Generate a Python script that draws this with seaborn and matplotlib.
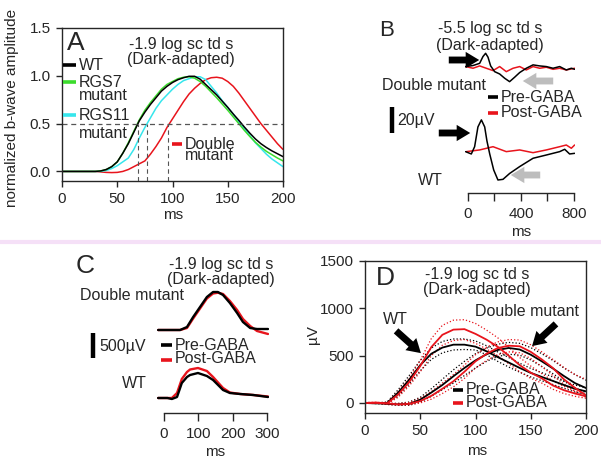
import matplotlib
matplotlib.use("Agg")
import matplotlib.pyplot as plt
import seaborn as sns
from matplotlib.lines import Line2D
from matplotlib.patches import FancyArrowPatch

# ---------------------------------------------------------------------------
# Data
# ---------------------------------------------------------------------------
# A: normalized b-wave, 5 ms grid
a_ms = list(range(0, 205, 5))
a_wt = [0, 0, 0, 0, 0, 0, 0, 0.005, 0.02, 0.05, 0.10, 0.19, 0.29, 0.41, 0.53,
        0.62, 0.70, 0.77, 0.84, 0.89, 0.93, 0.96, 0.98, 0.995, 0.995, 0.965,
        0.91, 0.855, 0.80, 0.735, 0.67, 0.60, 0.535, 0.465, 0.40, 0.34, 0.29,
        0.25, 0.215, 0.185, 0.155]
a_rgs7 = [0, 0, 0, 0, 0, 0, 0, 0.005, 0.02, 0.05, 0.10, 0.19, 0.30, 0.42, 0.54,
          0.64, 0.72, 0.79, 0.86, 0.91, 0.94, 0.97, 0.985, 0.99, 0.975, 0.94,
          0.89, 0.83, 0.77, 0.705, 0.64, 0.57, 0.50, 0.43, 0.365, 0.305, 0.255,
          0.21, 0.175, 0.14, 0.11]
a_rgs11 = [0, 0, 0, 0, 0, 0, 0, 0, 0.01, 0.03, 0.06, 0.10, 0.14, 0.23, 0.35,
           0.46, 0.56, 0.66, 0.74, 0.80, 0.86, 0.91, 0.95, 0.97, 0.99, 0.99,
           0.96, 0.89, 0.82, 0.74, 0.67, 0.60, 0.52, 0.45, 0.375, 0.30, 0.24,
           0.18, 0.13, 0.09, 0.05]
a_double = [0, 0, 0, 0, 0, 0, 0, -0.005, -0.01, -0.012, -0.01, 0.0, 0.02, 0.05,
            0.08, 0.11, 0.18, 0.26, 0.35, 0.46, 0.55, 0.64, 0.73, 0.81, 0.87,
            0.92, 0.96, 0.98, 0.985, 0.975, 0.94, 0.89, 0.82, 0.74, 0.66, 0.58,
            0.50, 0.43, 0.36, 0.29, 0.23]
a_half_ms = [69, 77, 96]

# B: -5.5 log sc td s traces (µV)
b_dm_pre_ms = [-18, 38, 88, 113, 133, 151, 171, 201, 239, 277, 314, 352, 390,
               440, 491, 541, 591, 642, 692, 742, 780, 805]
b_dm_pre = [97.2, 98, 99.7, 104.9, 107.4, 104.4, 97.7, 93.3, 91.5, 88.2, 85.6,
            89, 92.6, 95.9, 98.5, 97.7, 97.2, 95.9, 97.2, 94.6, 95.9, 95.1]
b_dm_post_ms = [-18, 38, 88, 138, 189, 239, 289, 340, 390, 440, 491, 541, 591,
                642, 692, 742, 805]
b_dm_post = [97.2, 95.9, 97.7, 95.9, 94.1, 97.2, 93.3, 95.9, 97.2, 94.6, 97.2,
             95.9, 96.7, 95.1, 95.9, 94.6, 95.9]
b_wt_pre_ms = [-18, 25, 50, 75, 101, 126, 143, 164, 194, 226, 264, 314, 390,
               491, 591, 692, 730, 767, 805]
b_wt_pre = [31.8, 30, 35.6, 50.8, 56.2, 50.8, 40, 30, 17.7, 10, 10.5, 15, 20.3,
            26.7, 29.2, 31.8, 33.6, 30, 30.5]
b_wt_post_ms = [-13, 88, 189, 289, 390, 491, 591, 692, 742, 780, 805]
b_wt_post = [31.8, 33.1, 35.6, 31.8, 33.1, 31, 33.1, 35.6, 36.9, 34.4, 36.9]

# C: -1.9 log sc td s traces (µV, offset per genotype)
c_dm_ms = [-17, 20, 47, 67, 85, 105, 125, 143, 157, 172, 192, 213, 230, 251,
           271, 303]
c_dm_pre = [0, 0, 0, 60, 260, 460, 660, 760, 760, 700, 540, 340, 160, 40, 20, 20]
c_dm_post = [0, 0, 0, 40, 230, 430, 630, 730, 745, 720, 580, 400, 220, 80, -20,
             -80]
c_wt_ms = [-17, 10, 23, 38, 52, 67, 76, 99, 125, 143, 172, 192, 222, 260, 303]
c_wt_pre = [0, 0, -20, 20, 300, 420, 460, 500, 440, 360, 160, 100, 80, 60, 20]
c_wt_post = [0, 0, 0, 100, 380, 520, 570, 600, 540, 420, 200, 110, 80, 60, 30]

# D: mean (solid) and ± bounds (dotted), 10 ms grid
d_ms = list(range(0, 210, 10))
d_wt_pre = [0, -5, 0, 110, 246, 400, 520, 585, 616, 616, 595, 546, 485, 428,
            370, 318, 275, 233, 190, 150, 123]
d_wt_pre_hi = [0, 0, 10, 140, 290, 450, 580, 650, 676, 676, 655, 605, 540, 480,
               420, 365, 320, 275, 230, 190, 160]
d_wt_pre_lo = [0, -5, -5, 70, 200, 340, 460, 530, 560, 565, 560, 510, 440, 380,
               325, 275, 235, 195, 155, 115, 90]
d_wt_post = [0, 0, -5, 90, 220, 390, 590, 720, 775, 780, 730, 669, 595, 500,
             400, 320, 260, 185, 135, 100, 70]
d_wt_post_hi = [5, 5, 5, 120, 260, 450, 680, 820, 875, 880, 840, 770, 690, 590,
                480, 390, 310, 235, 175, 130, 95]
d_wt_post_lo = [-5, -5, -10, 60, 180, 330, 500, 610, 660, 670, 630, 570, 500,
                415, 330, 260, 210, 145, 100, 70, 50]
d_dm_pre = [0, 0, -10, -15, -10, 35, 110, 190, 282, 370, 450, 515, 560, 581,
            565, 510, 440, 365, 285, 210, 158]
d_dm_pre_hi = [0, 0, -5, -5, 10, 60, 150, 250, 350, 440, 520, 580, 620, 640,
               630, 585, 520, 450, 370, 300, 240]
d_dm_pre_lo = [0, -5, -15, -25, -25, 10, 70, 140, 210, 290, 370, 440, 490, 515,
               505, 455, 385, 310, 230, 160, 110]
d_dm_post = [0, 5, -5, -15, -10, 20, 75, 150, 229, 330, 440, 520, 580, 605,
             599, 540, 460, 370, 250, 160, 80]
d_dm_post_hi = [5, 5, 0, -5, 5, 50, 120, 210, 300, 400, 510, 590, 645, 670,
                665, 615, 540, 460, 375, 300, 250]
d_dm_post_lo = [-5, 0, -15, -25, -20, 0, 40, 100, 170, 260, 370, 450, 510, 540,
                530, 470, 385, 290, 200, 120, 60]

# offsets used to stack traces in C
C_DM_BASE, C_WT_BASE = 1660, 300

BLACK, RED, GREEN, CYAN, GRAY = "black", "#e8141c", "#3bdc2c", "#36e6ec", "#bdbdbd"
FS = 11.5

# ---------------------------------------------------------------------------
sns.set_style("ticks")
plt.rcParams["font.family"] = ["Liberation Sans", "DejaVu Sans"]
plt.rcParams["font.size"] = 11
plt.rcParams["axes.linewidth"] = 1.0
plt.rcParams["xtick.major.width"] = 1.0
plt.rcParams["ytick.major.width"] = 1.0

W, H = 601, 463
fig = plt.figure(figsize=(W / 100, H / 100), dpi=100)


def fx(x):
    return x / W


def fy(y):
    return 1 - y / H


def axes_px(l, t, r, b):
    return fig.add_axes([fx(l), fy(b), (r - l) / W, (b - t) / H])


def txt(x, y, s, ha="left", size=FS, **kw):
    fig.text(fx(x), fy(y), s, ha=ha, va="center", fontsize=size, **kw)


def seg(x0, y0, x1, y1, color, lw=2.2):
    fig.add_artist(Line2D([fx(x0), fx(x1)], [fy(y0), fy(y1)], color=color,
                          lw=lw, solid_capstyle="butt"))


def arrow(x0, y0, x1, y1, color):
    fig.add_artist(FancyArrowPatch(
        (fx(x0), fy(y0)), (fx(x1), fy(y1)), transform=fig.transFigure,
        arrowstyle="simple,head_length=0.75,head_width=0.9,tail_width=0.38",
        mutation_scale=13, color=color, lw=0))


def trace(ax, x, y, color, lw=1.1, ls="-"):
    sns.lineplot(x=x, y=y, ax=ax, color=color, lw=lw, linestyle=ls,
                 legend=False)


# separator between rows
seg(0, 242, W, 242, "#f5e0f7", lw=3)

# ---------------------------------------------------------------------------
# Panel A
# ---------------------------------------------------------------------------
axA = axes_px(62, 28, 283, 181)
trace(axA, a_ms, a_double, RED)
trace(axA, a_ms, a_rgs11, CYAN)
trace(axA, a_ms, a_rgs7, GREEN)
trace(axA, a_ms, a_wt, BLACK)
axA.axhline(0.5, color="#555555", lw=0.9, ls=(0, (4, 3)))
for h in a_half_ms:
    axA.plot([h, h], [-0.1, 0.5], color="#555555", lw=0.8, ls=(0, (4, 3)))
axA.set_xlim(0, 200)
axA.set_ylim(-0.1, 1.5)
axA.set_xticks([0, 50, 100, 150, 200])
axA.set_yticks([0.0, 0.5, 1.0, 1.5])
axA.set_yticklabels(["0.0", "0.5", "1.0", "1.5"])
axA.set_xlabel("")
axA.set_ylabel("")
axA.tick_params(length=4, pad=4)

txt(67, 43, "A", size=19)
txt(181, 52, "-1.9 log sc td s\n(Dark-adapted)", ha="center", linespacing=1.05)
seg(63, 65, 76, 65, BLACK, 2.6)
txt(79, 65, "WT")
seg(63, 82, 76, 82, GREEN, 2.6)
txt(79, 89, "RGS7\nmutant", linespacing=0.82)
seg(63, 115, 76, 115, CYAN, 2.6)
txt(79, 125, "RGS11\nmutant", linespacing=1.25)
seg(172, 144, 182, 144, RED, 2.6)
txt(185, 150, "Double\nmutant", linespacing=0.7)
txt(12, 108, "normalized b-wave amplitude", ha="center", rotation=90, size=11)
txt(173, 215, "ms", ha="center", size=11)

# ---------------------------------------------------------------------------
# Panel B
# ---------------------------------------------------------------------------
axB = axes_px(465.35, 20, 575.3, 193)
trace(axB, b_dm_post_ms, b_dm_post, RED)
trace(axB, b_dm_pre_ms, b_dm_pre, BLACK)
trace(axB, b_wt_post_ms, b_wt_post, RED)
trace(axB, b_wt_pre_ms, b_wt_pre, BLACK)
axB.set_xlim(-20, 810)
axB.set_ylim(0, 133)
axB.set_xticks([0, 200, 400, 600, 800])
axB.set_xticklabels(["0", "", "400", "", "800"])
axB.set_yticks([])
axB.set_xlabel("")
axB.set_ylabel("")
for side in ["left", "top", "right"]:
    axB.spines[side].set_visible(False)
axB.spines["bottom"].set_bounds(0, 800)
axB.tick_params(length=6, pad=4)

txt(379, 30, "B", size=16)
txt(490, 37, "-5.5 log sc td s\n(Dark-adapted)", ha="center", linespacing=1.15)
txt(486, 85, "Double mutant", ha="right")
seg(488, 97, 498, 97, BLACK, 2.6)
txt(501, 105, "Pre-GABA\nPost-GABA", linespacing=0.95)
seg(488, 113, 498, 113, RED, 2.6)
seg(392, 107, 392, 133, BLACK, 3.2)
txt(397, 120, "20µV")
txt(430, 180, "WT", ha="center")
txt(521, 232, "ms", ha="center", size=11)
arrow(446, 60, 482, 60, BLACK)
arrow(436, 133, 473, 133, BLACK)
arrow(556, 81, 520, 81, GRAY)
arrow(543, 175, 508, 175, GRAY)

# ---------------------------------------------------------------------------
# Panel C
# ---------------------------------------------------------------------------
axC = axes_px(157.1, 255, 268.7, 413)
trace(axC, c_dm_ms, [v + C_DM_BASE for v in c_dm_post], RED, lw=1.7)
trace(axC, c_dm_ms, [v + C_DM_BASE for v in c_dm_pre], BLACK, lw=1.7)
trace(axC, c_wt_ms, [v + C_WT_BASE for v in c_wt_post], RED, lw=1.7)
trace(axC, c_wt_ms, [v + C_WT_BASE for v in c_wt_pre], BLACK, lw=1.7)
axC.set_xlim(-20, 305)
axC.set_ylim(0, 3160)
axC.set_xticks([0, 100, 200, 300])
axC.set_yticks([])
axC.set_xlabel("")
axC.set_ylabel("")
for side in ["left", "top", "right"]:
    axC.spines[side].set_visible(False)
axC.spines["bottom"].set_bounds(0, 300)
axC.tick_params(length=6, pad=4)

txt(76, 266, "C", size=19)
txt(221, 272, "-1.9 log sc td s\n(Dark-adapted)", ha="center", linespacing=0.95)
txt(80, 295, "Double mutant")
seg(93, 333, 93, 358, BLACK, 3.2)
txt(99, 346, "500µV")
seg(161, 345, 172, 345, BLACK, 2.6)
txt(175, 352, "Pre-GABA\nPost-GABA", linespacing=0.85)
seg(161, 360, 172, 360, RED, 2.6)
txt(134, 383, "WT", ha="center")
txt(215, 452, "ms", ha="center", size=11)

# ---------------------------------------------------------------------------
# Panel D
# ---------------------------------------------------------------------------
axD = axes_px(365, 261, 586, 413)
for lo, hi, color in [(d_wt_pre_lo, d_wt_pre_hi, BLACK),
                      (d_dm_pre_lo, d_dm_pre_hi, BLACK),
                      (d_wt_post_lo, d_wt_post_hi, RED),
                      (d_dm_post_lo, d_dm_post_hi, RED)]:
    trace(axD, d_ms, lo, color, lw=0.9, ls=":")
    trace(axD, d_ms, hi, color, lw=0.9, ls=":")
trace(axD, d_ms, d_wt_pre, BLACK, lw=1.3)
trace(axD, d_ms, d_dm_pre, BLACK, lw=1.3)
trace(axD, d_ms, d_wt_post, RED, lw=1.3)
trace(axD, d_ms, d_dm_post, RED, lw=1.3)
axD.set_xlim(0, 200)
axD.set_ylim(-106, 1500)
axD.set_xticks([0, 50, 100, 150, 200])
axD.set_yticks([0, 500, 1000, 1500])
axD.set_xlabel("")
axD.set_ylabel("")
axD.tick_params(length=4, pad=4)

txt(376, 278, "D", size=19)
txt(477, 282, "-1.9 log sc td s\n(Dark-adapted)", ha="center", linespacing=1.0)
txt(527, 311, "Double mutant", ha="center")
txt(395, 320, "WT", ha="center")
arrow(394, 329, 423, 355, BLACK)
arrow(558, 322, 530, 348, BLACK)
seg(453, 390, 463, 390, BLACK, 2.6)
txt(466, 396, "Pre-GABA\nPost-GABA", linespacing=0.78)
seg(453, 403, 463, 403, RED, 2.6)
txt(313, 335, "µV", ha="center", rotation=90, size=11)
txt(477, 451, "ms", ha="center", size=11)

fig.savefig("out.png", dpi=100)
